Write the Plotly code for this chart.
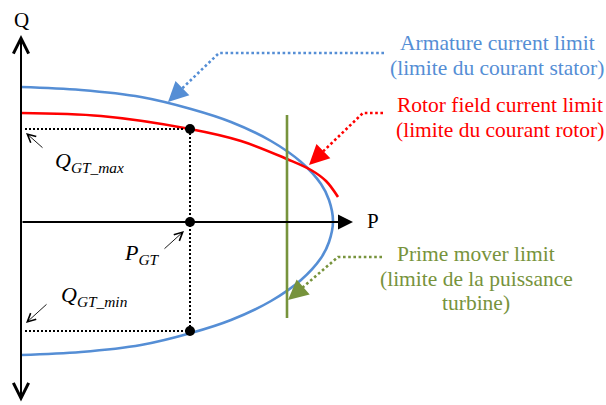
import numpy as np
import plotly.graph_objects as go

# ---- Data (diagram units: P to the right, Q upwards) ----
armature_P = [0, 60, 120, 170, 210, 250, 280, 300, 308, 312, 308, 300, 280, 250, 210, 170, 120, 60, 0]
armature_Q = [135, 132, 125, 113, 100, 81, 60, 38, 22, 1, -20, -36, -58, -79, -98, -111, -123, -130, -133]

rotor_P = [0, 80, 169, 220, 266, 290, 305, 317]
rotor_Q = [109, 106, 93, 81, 63, 52, 41, 25]

prime_mover_P = 266
prime_mover_Q = [107, -96]

P_GT = 169
Q_GT_max = 93
Q_GT_min = -109
dotted_start_P = 4

Q_axis = [-181, 187]
P_axis = [0, 332]

leader_armature_P = [363, 198, 147]
leader_armature_Q = [169, 169, 120]
leader_rotor_P = [362, 342, 288]
leader_rotor_Q = [109, 109, 57]
leader_prime_P = [361, 317, 267]
leader_prime_Q = [-35, -35, -78]

armature_lines = ["Armature current limit", "(limite du courant stator)"]
armature_line_Q = [179, 154]
armature_center_P = 476
rotor_lines = ["Rotor field current limit", "(limite du courant rotor)"]
rotor_line_Q = [117, 92]
rotor_center_P = 479
prime_lines = ["Prime mover limit", "(limite de la puissance", "turbine)"]
prime_line_Q = [-32, -57, -81]
prime_center_P = 455

BLUE = "#558ED5"
RED = "#FF0000"
GREEN = "#77933C"
SERIF = "Liberation Serif"

fig = go.Figure()

fig.add_trace(go.Scatter(x=armature_P, y=armature_Q, mode="lines",
                         line=dict(color=BLUE, width=2.6, shape="spline"), hoverinfo="skip"))
fig.add_trace(go.Scatter(x=rotor_P, y=rotor_Q, mode="lines",
                         line=dict(color=RED, width=2.6, shape="spline"), hoverinfo="skip"))
fig.add_trace(go.Scatter(x=[prime_mover_P, prime_mover_P], y=prime_mover_Q, mode="lines",
                         line=dict(color=GREEN, width=2.6), hoverinfo="skip"))

fig.add_trace(go.Scatter(x=[dotted_start_P, P_GT, None, P_GT, P_GT, None, dotted_start_P, P_GT],
                         y=[Q_GT_max, Q_GT_max, None, Q_GT_max, Q_GT_min, None, Q_GT_min, Q_GT_min],
                         mode="lines", line=dict(color="black", width=2, dash="2px,2px"),
                         hoverinfo="skip"))
fig.add_trace(go.Scatter(x=[P_GT, P_GT, P_GT], y=[Q_GT_max, 0, Q_GT_min], mode="markers",
                         marker=dict(color="black", size=10), hoverinfo="skip"))

annotations = []

# Axes
annotations.append(dict(x=0, y=Q_axis[1], ax=0, ay=Q_axis[0], xref="x", yref="y", axref="x", ayref="y",
                        text="", showarrow=True, arrowside="end+start", arrowhead=5, startarrowhead=5,
                        arrowsize=1.5, startarrowsize=1.5, arrowwidth=2, arrowcolor="black"))
annotations.append(dict(x=P_axis[1], y=0, ax=P_axis[0], ay=0, xref="x", yref="y", axref="x", ayref="y",
                        text="", showarrow=True, arrowhead=2, arrowsize=1.5, arrowwidth=2, arrowcolor="black"))
annotations.append(dict(x=0, y=202, text="Q", showarrow=False, font=dict(family=SERIF, size=21, color="black")))
annotations.append(dict(x=352, y=1, text="P", showarrow=False, font=dict(family=SERIF, size=21, color="black")))

# Leader lines (dotted) with filled arrowheads
for lp, lq, col in [(leader_armature_P, leader_armature_Q, BLUE),
                    (leader_rotor_P, leader_rotor_Q, RED),
                    (leader_prime_P, leader_prime_Q, GREEN)]:
    tip = np.array([lp[2], lq[2]], dtype=float)
    corner = np.array([lp[1], lq[1]], dtype=float)
    u = (corner - tip) / np.linalg.norm(corner - tip)
    back = tip + 14 * u
    fig.add_trace(go.Scatter(x=[lp[0], lp[1], back[0]], y=[lq[0], lq[1], back[1]], mode="lines",
                             line=dict(color=col, width=2.6, dash="2.6px,2.6px"), hoverinfo="skip"))
    annotations.append(dict(x=tip[0], y=tip[1], ax=back[0], ay=back[1], xref="x", yref="y",
                            axref="x", ayref="y", text="", showarrow=True, arrowhead=2,
                            arrowsize=1.6, arrowwidth=2.5, arrowcolor=col))

# Thin pointer arrows for labels
for tail, tip in [((23, 73), (5, 89)), ((142, -28), (163, -9)), ((27, -81), (5, -101))]:
    annotations.append(dict(x=tip[0], y=tip[1], ax=tail[0], ay=tail[1], xref="x", yref="y",
                            axref="x", ayref="y", text="", showarrow=True, arrowhead=5,
                            arrowsize=1.8, arrowwidth=0.9, arrowcolor="black"))

math_font = dict(family=SERIF, size=22, color="black")
annotations.append(dict(x=32, y=60, text="<i>Q</i><sub><i>GT_max</i></sub>", showarrow=False,
                        xanchor="left", yanchor="middle", font=math_font))
annotations.append(dict(x=101, y=-32, text="<i>P</i><sub><i>GT</i></sub>", showarrow=False,
                        xanchor="left", yanchor="middle", font=math_font))
annotations.append(dict(x=38, y=-74, text="<i>Q</i><sub><i>GT_min</i></sub>", showarrow=False,
                        xanchor="left", yanchor="middle", font=math_font))

# Limit descriptions, one annotation per line
for lines, qs, cp, col in [(armature_lines, armature_line_Q, armature_center_P, BLUE),
                           (rotor_lines, rotor_line_Q, rotor_center_P, RED),
                           (prime_lines, prime_line_Q, prime_center_P, GREEN)]:
    for txt, q in zip(lines, qs):
        annotations.append(dict(x=cp, y=q, text=txt, showarrow=False, xanchor="center",
                                yanchor="middle", font=dict(family=SERIF, size=21.5, color=col)))

fig.update_layout(
    width=606, height=405,
    margin=dict(l=0, r=0, t=0, b=0),
    paper_bgcolor="white", plot_bgcolor="white",
    showlegend=False,
    xaxis=dict(range=[-21, 585], visible=False, fixedrange=True),
    yaxis=dict(range=[-183, 222], visible=False, fixedrange=True),
    annotations=annotations,
)

# remove the default 8px page margin so the figure fills the window exactly
fig.write_html("out.html", config={"displayModeBar": False},
               post_script="document.body.style.margin='0';document.body.style.overflow='hidden';")
